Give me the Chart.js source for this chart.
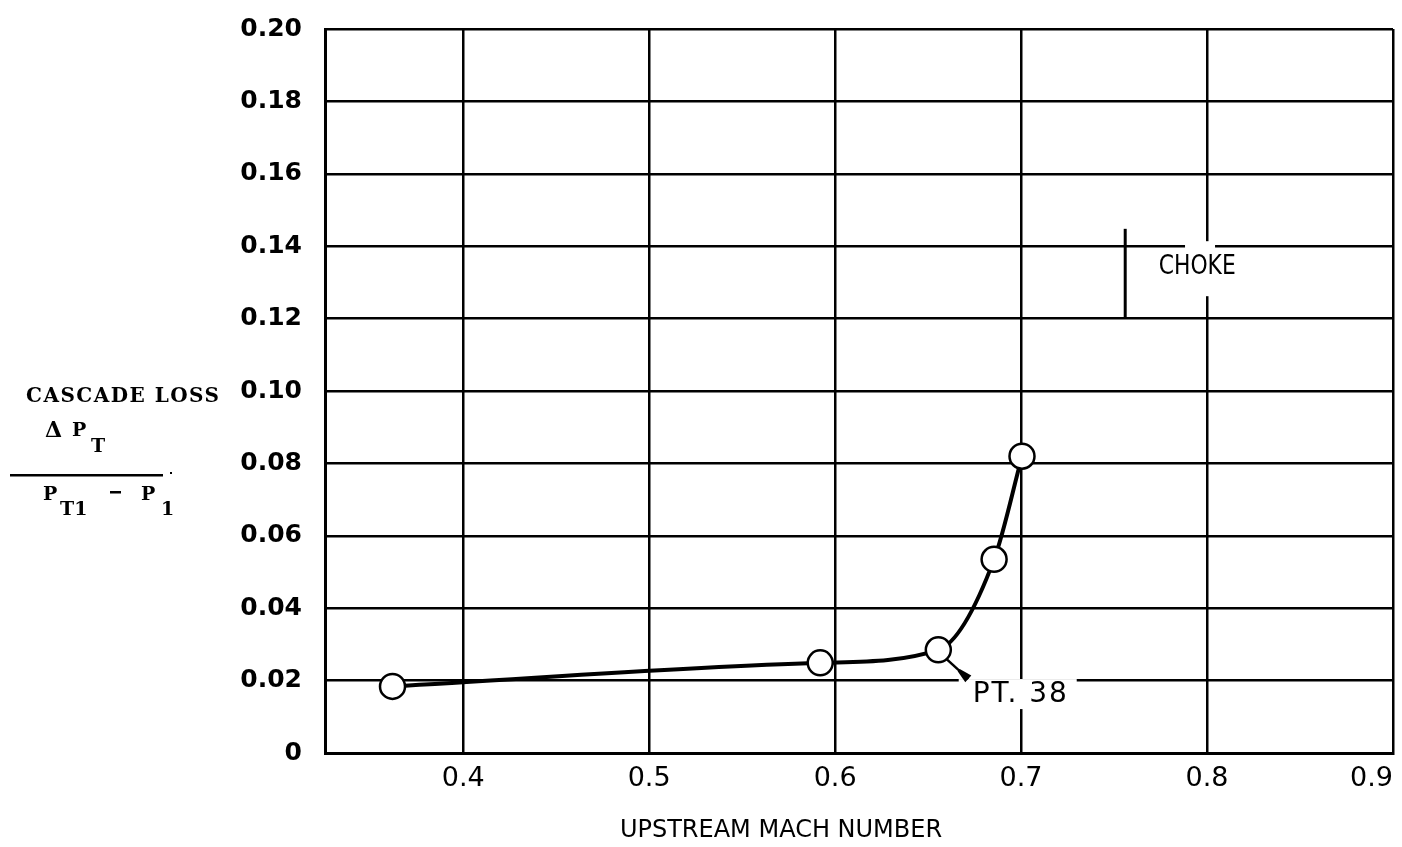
<!DOCTYPE html>
<html><head><meta charset="utf-8">
<script src="https://cdn.jsdelivr.net/npm/chart.js@4/dist/chart.umd.min.js"></script>
<style>html,body{margin:0;padding:0;background:#fff;}#wrap{width:1402px;height:847px;}</style>
</head><body><div id="wrap"><canvas id="c" width="1402" height="847"></canvas></div>
<script>
// ---- data ----
const machNumbers = [0.362, 0.592, 0.6555, 0.6855, 0.7005];
const cascadeLoss = [0.0184, 0.0249, 0.0285, 0.0535, 0.0820];
const xTickValues = [0.4, 0.5, 0.6, 0.7, 0.8, 0.9];
const yTickValues = [0, 0.02, 0.04, 0.06, 0.08, 0.10, 0.12, 0.14, 0.16, 0.18, 0.20];
const xRange = [0.3257, 0.9];
const yRange = [0, 0.20];
const chokeMach = 0.756;
const chokeLossRange = [0.12, 0.1448];
const chokeLabel = {text: 'CHOKE', x: 0.774, y: 0.1342};
const pointLabel = {text: 'PT. 38', x: 0.674, y: 0.0160, index: 2};
const xTitle = 'UPSTREAM MACH NUMBER';
const yTitleTop = 'CASCADE LOSS';

// fixed plot frame (pixels) to match the reference layout
const frame = {left: 325, top: 29, right: 1393, bottom: 753};

const framePlugin = {
  id: 'frame',
  afterLayout(chart) {
    const ca = chart.chartArea, H = chart.height;
    Object.assign(ca, frame);
    ca.width = frame.right - frame.left; ca.height = frame.bottom - frame.top;
    const x = chart.scales.x, y = chart.scales.y;
    x.left = frame.left; x.right = frame.right; x.width = ca.width;
    x.top = frame.bottom; x.bottom = H; x.height = H - frame.bottom;
    y.top = frame.top; y.bottom = frame.bottom; y.height = ca.height;
    y.left = 0; y.right = frame.left; y.width = frame.left;
    x.configure(); y.configure();
  }
};

const annot = {
  id: 'annot',
  afterDraw(chart) {
    const ctx = chart.ctx, xs = chart.scales.x, ys = chart.scales.y;
    ctx.save();
    ctx.fillStyle = '#000'; ctx.strokeStyle = '#000';
    // x-axis title
    ctx.font = '24px "DejaVu Sans"';
    ctx.textAlign = 'center'; ctx.textBaseline = 'middle';
    ctx.fillText(xTitle, 781, 831);
    // choke marker
    const cx = xs.getPixelForValue(chokeMach);
    ctx.lineWidth = 3;
    ctx.beginPath();
    ctx.moveTo(cx, ys.getPixelForValue(chokeLossRange[0]));
    ctx.lineTo(cx, ys.getPixelForValue(chokeLossRange[1]));
    ctx.stroke();
    // knock-out in grid around CHOKE
    const g8 = xs.getPixelForValue(0.8), g14 = ys.getPixelForValue(0.14);
    ctx.fillStyle = '#fff';
    ctx.fillRect(g8 - 22, g14 - 5, 30, 55);
    ctx.fillStyle = '#000';
    const lx = xs.getPixelForValue(chokeLabel.x), ly = ys.getPixelForValue(chokeLabel.y);
    ctx.save();
    ctx.translate(lx, ly); ctx.scale(0.81, 1);
    ctx.font = '27px "DejaVu Sans"';
    ctx.textAlign = 'left'; ctx.textBaseline = 'middle';
    ctx.fillText(chokeLabel.text, 0, 0);
    ctx.restore();
    // PT. 38 label
    const px = xs.getPixelForValue(pointLabel.x), py = ys.getPixelForValue(pointLabel.y);
    ctx.fillStyle = '#fff';
    ctx.fillRect(px - 14, py - 16, 118, 30);
    ctx.fillStyle = '#000';
    ctx.font = '28px "DejaVu Sans"';
    ctx.letterSpacing = '2px';
    ctx.textAlign = 'left'; ctx.textBaseline = 'middle';
    ctx.fillText(pointLabel.text, px, py);
    ctx.letterSpacing = '0px';
    // pointer from point to label
    const pt = chart.getDatasetMeta(0).data[pointLabel.index];
    const sx = pt.x + 8, sy = pt.y + 9, ex = pt.x + 30, ey = pt.y + 29;
    ctx.lineWidth = 2.5;
    ctx.beginPath(); ctx.moveTo(sx, sy); ctx.lineTo(ex, ey); ctx.stroke();
    const dx = ex - sx, dy = ey - sy, len = Math.hypot(dx, dy);
    const ux = dx / len, uy = dy / len, nx = -uy, ny = ux;
    const bx = ex - ux * 13, by = ey - uy * 13;
    ctx.beginPath();
    ctx.moveTo(bx + nx * 1.5, by + ny * 1.5);
    ctx.lineTo(ex + nx * 4.5, ey + ny * 4.5);
    ctx.lineTo(ex - nx * 4.5, ey - ny * 4.5);
    ctx.lineTo(bx - nx * 1.5, by - ny * 1.5);
    ctx.closePath(); ctx.fill();

    // y-axis label (fraction)
    ctx.textBaseline = 'alphabetic'; ctx.textAlign = 'left';
    ctx.font = 'bold 20px "DejaVu Serif"';
    ctx.letterSpacing = '0px';
    const w0 = ctx.measureText(yTitleTop).width;
    const sp = Math.max(0, (193 - w0) / (yTitleTop.length - 1));
    ctx.letterSpacing = sp.toFixed(2) + 'px';
    ctx.fillText(yTitleTop, 26, 402);
    ctx.letterSpacing = '0px';
    ctx.font = 'bold 22px "DejaVu Serif"';
    ctx.fillText('\u0394', 45, 437);
    ctx.font = 'bold 19px "DejaVu Serif"';
    ctx.fillText('P', 72, 436);
    ctx.fillText('T', 91, 452);
    ctx.fillRect(10, 474, 153, 2.5);
    ctx.fillRect(170, 472, 2, 2);
    ctx.fillText('P', 43, 500);
    ctx.fillText('T1', 60, 515);
    ctx.fillRect(110, 491, 11, 2.5);
    ctx.fillText('P', 141, 500);
    ctx.fillText('1', 161, 515);
    ctx.restore();
  }
};

new Chart(document.getElementById('c'), {
  type: 'line',
  data: {
    datasets: [{
      data: machNumbers.map((m, i) => ({x: m, y: cascadeLoss[i]})),
      borderColor: '#000',
      borderWidth: 4,
      pointRadius: 12.5,
      pointBorderWidth: 2.5,
      pointBackgroundColor: '#fff',
      pointBorderColor: '#000',
      cubicInterpolationMode: 'monotone',
      fill: false
    }]
  },
  options: {
    responsive: false,
    animation: false,
    devicePixelRatio: 1,
    layout: {padding: {top: 28, right: 9, left: 0, bottom: 0}, autoPadding: false},
    plugins: {legend: {display: false}, tooltip: {enabled: false}},
    scales: {
      x: {
        type: 'linear', min: xRange[0], max: xRange[1],
        afterBuildTicks: s => { s.ticks = [{value: xRange[0]}].concat(xTickValues.map(v => ({value: v}))); },
        afterFit: s => { s.height = 94; },
        grid: {color: '#000', lineWidth: 2.5, drawTicks: false},
        border: {color: '#000', width: 3},
        ticks: {color: '#000', padding: 10, align: 'inner', font: {family: 'DejaVu Sans', size: 27},
                callback: v => xTickValues.includes(v) ? v.toFixed(1) : ''},
        title: {display: false}
      },
      y: {
        type: 'linear', min: yRange[0], max: yRange[1],
        afterBuildTicks: s => { s.ticks = yTickValues.map(v => ({value: v})); },
        afterFit: s => { s.width = 325; },
        grid: {color: '#000', lineWidth: 2.5, drawTicks: false},
        border: {color: '#000', width: 3},
        ticks: {color: '#000', padding: 23, font: {family: 'DejaVu Sans', size: 25, weight: 'bold'},
                callback: v => v === 0 ? '0' : v.toFixed(2)}
      }
    }
  },
  plugins: [framePlugin, annot]
});
</script></body></html>
